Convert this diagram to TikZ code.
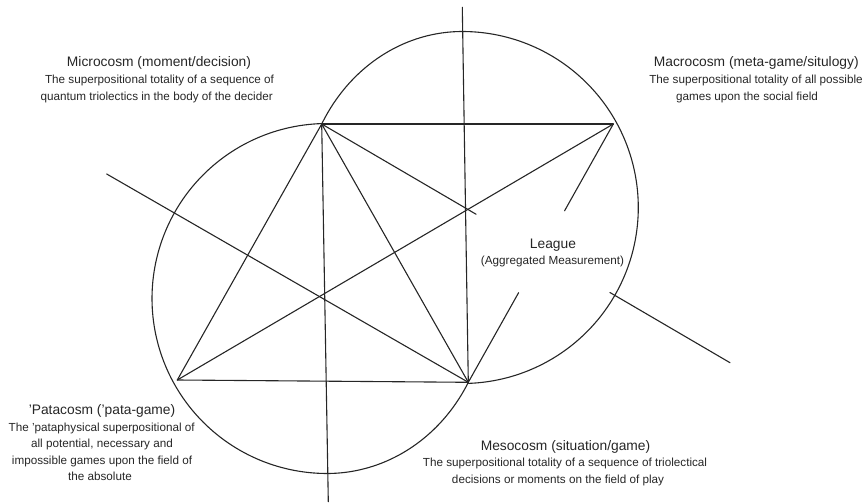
\documentclass[tikz,border=0pt]{standalone}
\usepackage{fontspec}
\setmainfont{Liberation Sans}
\usetikzlibrary{calc}
\newcommand\mytitlefont{\fontsize{13.8}{16}\selectfont}
\newcommand\mysubfont{\fontsize{11.7}{14}\selectfont}
\begin{document}
\begin{tikzpicture}[x=1pt,y=-1pt,
  ln/.style={line width=1.1pt, draw=black!85, line cap=round},
  ttl/.style={anchor=base, font=\mytitlefont, text=black!85, inner sep=0pt},
  sub/.style={anchor=base, font=\mysubfont, text=black!85, inner sep=0pt}]
\useasboundingbox (0,0) rectangle (863,503);
% vertices
\coordinate (A) at (321.7,124);
\coordinate (B) at (613.3,124);
\coordinate (C) at (177.3,380);
\coordinate (D) at (468.3,382.3);
% free ends
\coordinate (Lend) at (106.7,174);
\coordinate (Tend) at (462.3,7.3);
\coordinate (Bend) at (328.3,501.7);
\coordinate (Rend) at (730,362.7);
\coordinate (g1) at ($(B)!0.336!(D)$);
\coordinate (g2) at ($(B)!0.653!(D)$);
\coordinate (g3) at ($(A)!0.378!(Rend)$);
\coordinate (g4) at ($(A)!0.706!(Rend)$);
% outer arcs
\draw[ln] plot[domain=91.7:270, samples=120] ({327+175*cos(\x)},{298.5-175*sin(\x)})
  -- plot[domain=270:331.4, samples=60] ({327+161*cos(\x)},{298.5-175*sin(\x)});
\draw[ln] plot[domain=151.7:90, samples=60] ({462.3+159.7*cos(\x)},{207.5-176*sin(\x)})
  -- plot[domain=90:-88, samples=150] ({462.3+176*cos(\x)},{207.5-176*sin(\x)});
% lines
\draw[ln] (A) -- (B);
\draw[ln] (C) -- (D);
\draw[ln] (A) -- (C);
\draw[ln] (A) -- (D);
\draw[ln] (C) -- (B);
\draw[ln] (B) -- (g1);
\draw[ln] (g2) -- (D);
\draw[ln] (A) -- (g3);
\draw[ln] (g4) -- (Rend);
\draw[ln] (Lend) -- (D);
\draw[ln] (Tend) -- (D);
\draw[ln] (A) -- (Bend);
% texts
\node[ttl] (mic0) at (159,67) {Microcosm (moment/decision)};
\node[sub] (mic1) at (159.5,83.7) {The superpositional totality of a sequence of};
\node[sub] (mic2) at (156.7,100.3) {quantum triolectics in the body of the decider};
\node[ttl] (mac0) at (756.3,67) {Macrocosm (meta-game/situlogy)};
\node[sub] (mac1) at (756,83.7) {The superpositional totality of all possible};
\node[sub] (mac2) at (747,100.7) {games upon the social field};
\node[ttl] (lea0) at (553,248.5) {League};
\node[sub] (lea1) at (552.5,264.7) {(Aggregated Measurement)};
\node[ttl] (pat0) at (102,414.6) {'Patacosm ('pata-game)};
\node[sub] (pat1) at (101.7,431.3) {The 'pataphysical superpositional of};
\node[sub] (pat2) at (102,447.3) {all potential, necessary and};
\node[sub] (pat3) at (102,464) {impossible games upon the field of};
\node[sub] (pat4) at (100,480.7) {the absolute};
\node[ttl] (mes0) at (565.5,450.3) {Mesocosm (situation/game)};
\node[sub] (mes1) at (565,466.3) {The superpositional totality of a sequence of triolectical};
\node[sub] (mes2) at (558,483) {decisions or moments on the field of play};
\end{tikzpicture}
\end{document}
